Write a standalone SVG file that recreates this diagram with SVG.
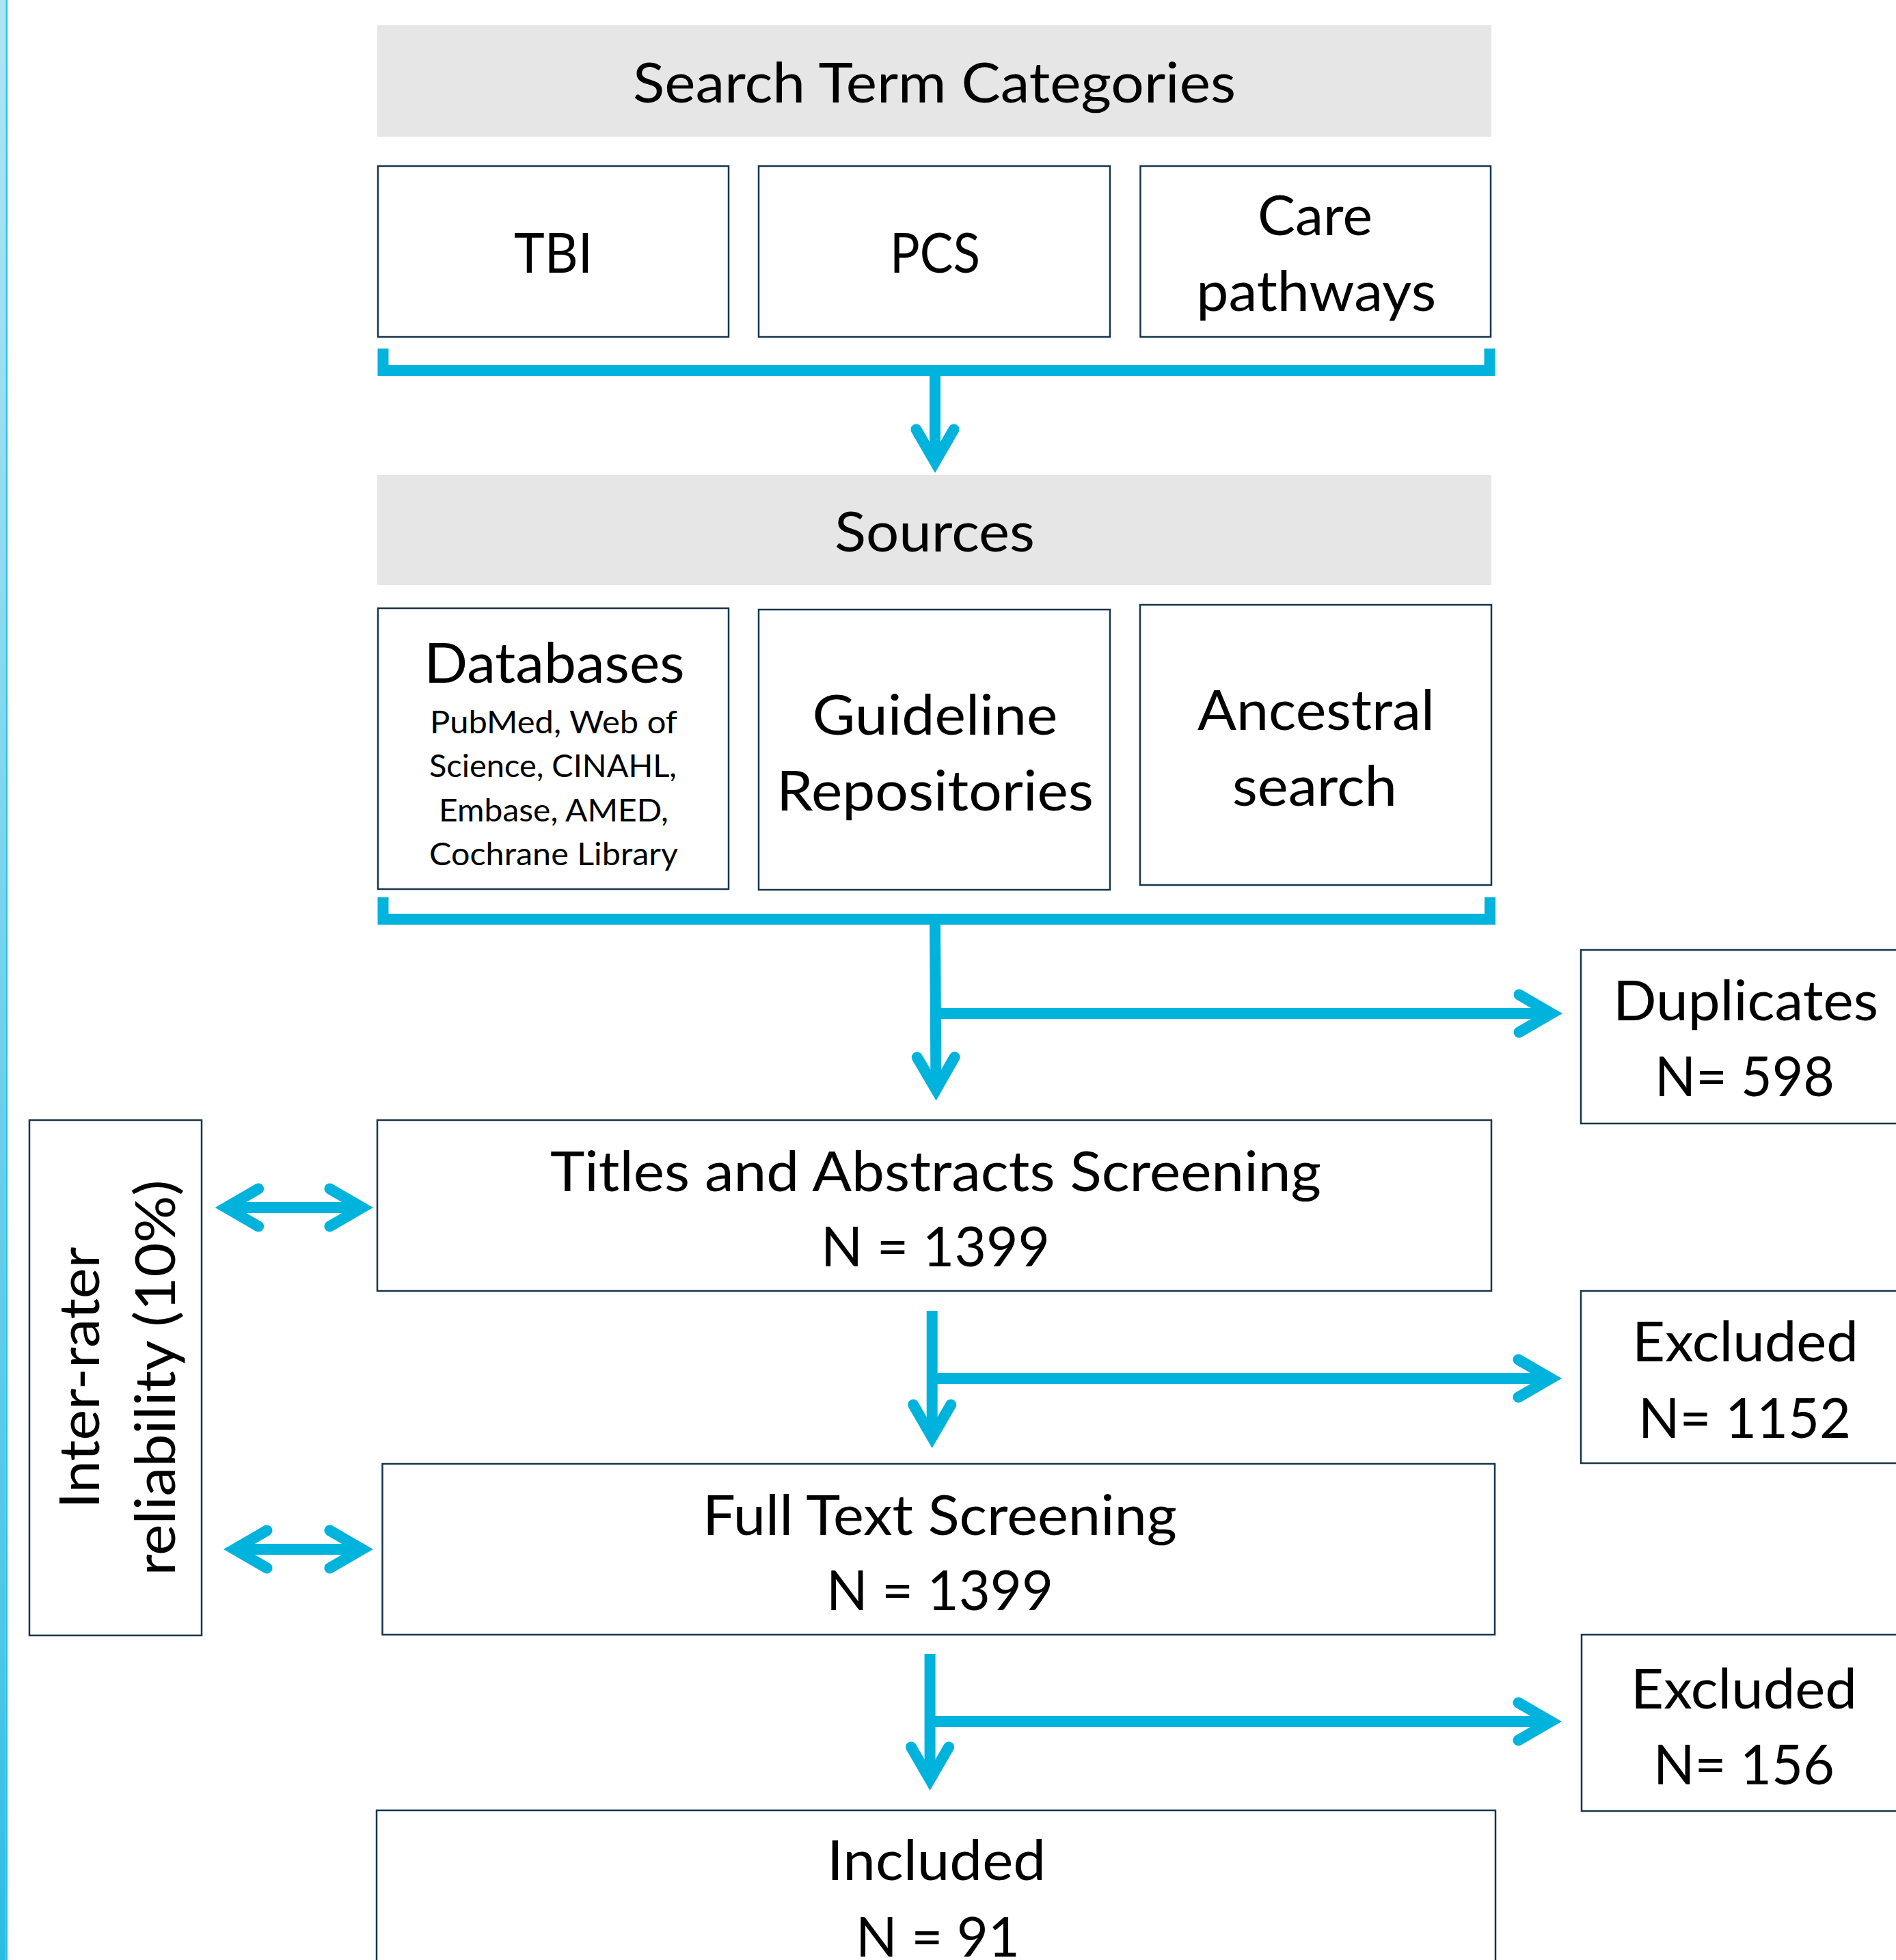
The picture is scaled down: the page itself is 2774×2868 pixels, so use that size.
<svg xmlns="http://www.w3.org/2000/svg" width="2774" height="2868" viewBox="0 0 2774 2868">
<style>
.box{fill:#ffffff;stroke:#17354b;stroke-width:2.5}
.hdr{fill:#e6e6e6}
.t{font-family:Lato,'Open Sans',sans-serif;font-size:82px;fill:#000;text-anchor:middle}
.s{font-size:46px}
.c{fill:none;stroke:#00b3dd;stroke-width:16;stroke-linejoin:miter}
</style>
<defs>
<linearGradient id="band" x1="0" y1="0" x2="0" y2="1">
<stop offset="0" stop-color="#aee4f2"/>
<stop offset="0.17" stop-color="#9fdff0"/>
<stop offset="0.56" stop-color="#6cd0eb"/>
<stop offset="0.84" stop-color="#4ec6e7"/>
<stop offset="1" stop-color="#2bbce2"/>
</linearGradient>
<marker id="ah" markerUnits="userSpaceOnUse" orient="auto-start-reverse" markerWidth="140" markerHeight="140" viewBox="-70 -70 140 140" refX="0" refY="0" overflow="visible">
<polyline points="-47.5,-27.5 0,0 -47.5,27.5" fill="none" stroke="#00b3dd" stroke-width="16" stroke-linecap="round" stroke-linejoin="miter"/>
</marker>
</defs>
<rect x="0" y="0" width="2774" height="2868" fill="#ffffff"/>
<g id="edge">
<rect x="0" y="0" width="8.5" height="2868" fill="url(#band)"/>
<rect x="8.5" y="0" width="2.5" height="2868" fill="#22bfec"/>
</g>

<g id="search-term-categories">
<rect class="hdr" x="552" y="37" width="1630" height="163"/>
<text class="t" x="1367" y="150" textLength="882" lengthAdjust="spacingAndGlyphs">Search Term Categories</text>
</g>
<g id="tbi">
<rect class="box" x="553" y="243" width="513" height="250"/>
<text class="t" x="809.5" y="399" textLength="115" lengthAdjust="spacingAndGlyphs">TBI</text>
</g>
<g id="pcs">
<rect class="box" x="1110" y="243" width="514" height="250"/>
<text class="t" x="1368" y="399" textLength="132" lengthAdjust="spacingAndGlyphs">PCS</text>
</g>
<g id="care-pathways">
<rect class="box" x="1668.5" y="243" width="512.5" height="250"/>
<text class="t" x="1924" y="344" textLength="168" lengthAdjust="spacingAndGlyphs">Care</text>
<text class="t" x="1925.7" y="455" textLength="351" lengthAdjust="spacingAndGlyphs">pathways</text>
</g>

<g id="sources">
<rect class="hdr" x="552" y="695" width="1630" height="161"/>
<text class="t" x="1367.5" y="807" textLength="293" lengthAdjust="spacingAndGlyphs">Sources</text>
</g>
<g id="databases">
<rect class="box" x="553" y="890" width="513" height="411"/>
<text class="t" x="811" y="999" textLength="381" lengthAdjust="spacingAndGlyphs">Databases</text>
<text class="t s" x="810" y="1073" textLength="362" lengthAdjust="spacingAndGlyphs">PubMed, Web of</text>
<text class="t s" x="809" y="1137" textLength="362" lengthAdjust="spacingAndGlyphs">Science, CINAHL,</text>
<text class="t s" x="810" y="1202" textLength="336" lengthAdjust="spacingAndGlyphs">Embase, AMED,</text>
<text class="t s" x="810" y="1266" textLength="364" lengthAdjust="spacingAndGlyphs">Cochrane Library</text>
</g>
<g id="guideline-repositories">
<rect class="box" x="1110" y="892" width="514" height="410"/>
<text class="t" x="1368" y="1075" textLength="359" lengthAdjust="spacingAndGlyphs">Guideline</text>
<text class="t" x="1368" y="1186" textLength="464" lengthAdjust="spacingAndGlyphs">Repositories</text>
</g>
<g id="ancestral-search">
<rect class="box" x="1668" y="885" width="514" height="410"/>
<text class="t" x="1925.5" y="1068" textLength="347" lengthAdjust="spacingAndGlyphs">Ancestral</text>
<text class="t" x="1923.5" y="1179" textLength="241" lengthAdjust="spacingAndGlyphs">search</text>
</g>

<g id="duplicates">
<rect class="box" x="2313" y="1390" width="500" height="254"/>
<text class="t" x="2554" y="1493" textLength="388" lengthAdjust="spacingAndGlyphs">Duplicates</text>
<text class="t" x="2552.5" y="1604" textLength="263" lengthAdjust="spacingAndGlyphs">N= 598</text>
</g>
<g id="titles-abstracts">
<rect class="box" x="552" y="1639" width="1630" height="250"/>
<text class="t" x="1369" y="1743" textLength="1128" lengthAdjust="spacingAndGlyphs">Titles and Abstracts Screening</text>
<text class="t" x="1368.5" y="1853" textLength="335" lengthAdjust="spacingAndGlyphs">N = 1399</text>
</g>
<g id="inter-rater">
<rect class="box" x="43" y="1639" width="252" height="754"/>
<text class="t" transform="translate(145,2016) rotate(-90)" x="0" y="0" textLength="383" lengthAdjust="spacingAndGlyphs">Inter-rater</text>
<text class="t" transform="translate(256,2016) rotate(-90)" x="0" y="0" textLength="579" lengthAdjust="spacingAndGlyphs">reliability (10%)</text>
</g>
<g id="excluded-1">
<rect class="box" x="2313" y="1889" width="500" height="252"/>
<text class="t" x="2553.5" y="1992" textLength="331" lengthAdjust="spacingAndGlyphs">Excluded</text>
<text class="t" x="2552.5" y="2104" textLength="311" lengthAdjust="spacingAndGlyphs">N= 1152</text>
</g>
<g id="full-text">
<rect class="box" x="559.5" y="2142" width="1627.5" height="250"/>
<text class="t" x="1375" y="2246" textLength="694" lengthAdjust="spacingAndGlyphs">Full Text Screening</text>
<text class="t" x="1375" y="2356" textLength="332" lengthAdjust="spacingAndGlyphs">N = 1399</text>
</g>
<g id="excluded-2">
<rect class="box" x="2314" y="2392" width="500" height="258"/>
<text class="t" x="2551.5" y="2500" textLength="331" lengthAdjust="spacingAndGlyphs">Excluded</text>
<text class="t" x="2551.5" y="2611" textLength="265" lengthAdjust="spacingAndGlyphs">N= 156</text>
</g>
<g id="included">
<rect class="box" x="551" y="2649" width="1637" height="300"/>
<text class="t" x="1370" y="2751" textLength="320" lengthAdjust="spacingAndGlyphs">Included</text>
<text class="t" x="1372" y="2863" textLength="240" lengthAdjust="spacingAndGlyphs">N = 91</text>
</g>

<g id="connectors">
<polyline class="c" points="560.5,510 560.5,542 2179.5,542 2179.5,510"/>
<path class="c" d="M1368 550 V676" marker-end="url(#ah)"/>
<polyline class="c" points="560.5,1313 560.5,1345 2180,1345 2180,1313"/>
<path class="c" d="M1368 1353 L1369.5 1594.5" marker-end="url(#ah)"/>
<path class="c" d="M1368 1483 H2270" marker-end="url(#ah)"/>
<path class="c" d="M1363.7 1918 V2103" marker-end="url(#ah)"/>
<path class="c" d="M1364 2017 H2269" marker-end="url(#ah)"/>
<path class="c" d="M1360.6 2420 V2604" marker-end="url(#ah)"/>
<path class="c" d="M1361 2519 H2269" marker-end="url(#ah)"/>
<path class="c" d="M330.6 1767 H530" marker-start="url(#ah)" marker-end="url(#ah)"/>
<path class="c" d="M343 2267 H530" marker-start="url(#ah)" marker-end="url(#ah)"/>
</g>
</svg>
